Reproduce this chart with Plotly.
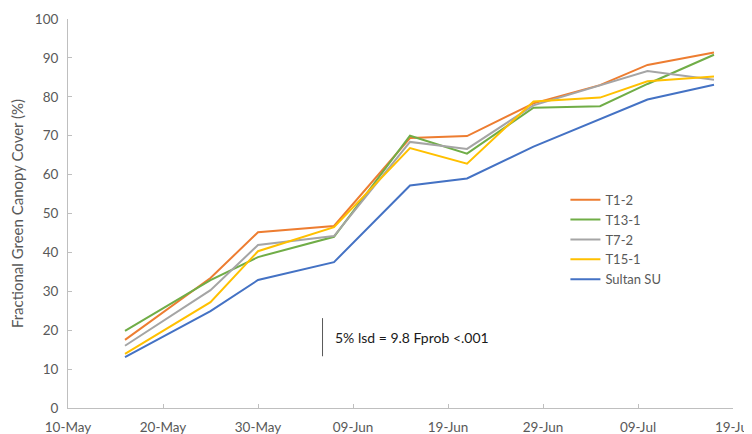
import plotly.graph_objects as go

dates = ["2023-05-16", "2023-05-25", "2023-05-30", "2023-06-07", "2023-06-15",
         "2023-06-21", "2023-06-28", "2023-07-05", "2023-07-10", "2023-07-17"]

t1_2 = [17.5, 33.4, 45.2, 46.8, 69.4, 69.9, 78.3, 83.0, 88.2, 91.4]
t13_1 = [19.8, 32.9, 38.8, 44.0, 70.0, 65.4, 77.2, 77.6, 83.3, 90.8]
t7_2 = [16.0, 30.3, 41.9, 44.2, 68.4, 66.6, 77.8, 82.9, 86.6, 84.4]
t15_1 = [13.9, 27.2, 40.3, 46.5, 66.8, 62.8, 78.8, 79.8, 84.0, 85.2]
sultan = [13.1, 24.9, 32.9, 37.5, 57.2, 59.0, 67.2, 74.2, 79.3, 83.1]

series_names = ["T1-2", "T13-1", "T7-2", "T15-1", "Sultan SU"]
series_values = [t1_2, t13_1, t7_2, t15_1, sultan]
colors = ["#ED7D31", "#70AD47", "#A5A5A5", "#FFC000", "#4472C4"]

tick_dates = ["2023-05-10", "2023-05-20", "2023-05-30", "2023-06-09", "2023-06-19",
              "2023-06-29", "2023-07-09", "2023-07-19"]
tick_labels = ["10-May", "20-May", "30-May", "09-Jun", "19-Jun", "29-Jun", "09-Jul", "19-Jul"]

lsd_value = 9.8
lsd_date = "2023-06-05 19:00"
lsd_base = 13.3
lsd_text = "5% lsd = 9.8 Fprob <.001"

fig = go.Figure()
for name, vals, col in zip(series_names, series_values, colors):
    fig.add_trace(go.Scatter(x=dates, y=vals, mode="lines", name=name,
                             line=dict(color=col, width=2)))

fig.add_shape(type="line", xref="x", yref="y",
              x0=lsd_date, x1=lsd_date, y0=lsd_base, y1=lsd_base + lsd_value,
              line=dict(color="#595959", width=1))
fig.add_annotation(x=lsd_date, y=lsd_base + lsd_value / 2, xref="x", yref="y",
                   text=lsd_text, showarrow=False, xanchor="left", xshift=10,
                   font=dict(family="Lato", size=14, color="#1a1a1a"))

fig.update_layout(
    width=744, height=426,
    margin=dict(l=60, r=19, t=11, b=26),
    paper_bgcolor="white", plot_bgcolor="white",
    font=dict(family="Lato", size=13, color="#595959"),
    showlegend=True,
    legend=dict(x=0.748, y=0.574, xanchor="left", yanchor="top",
                bgcolor="rgba(0,0,0,0)", font=dict(size=13, color="#595959"),
                tracegroupgap=0, itemwidth=30),
    xaxis=dict(range=["2023-05-10", "2023-07-19"], tickvals=tick_dates, ticktext=tick_labels,
               automargin=False,
               showgrid=False, zeroline=False, showline=True, linecolor="#BFBFBF", linewidth=1,
               ticks="inside", ticklen=4, tickcolor="#BFBFBF", ticklabelstandoff=7,
               tickfont=dict(size=13.5, color="#595959")),
    yaxis=dict(range=[0, 100], dtick=10, showgrid=False, zeroline=False,
               automargin=False,
               showline=True, linecolor="#BFBFBF", linewidth=1,
               ticks="inside", ticklen=4, tickcolor="#BFBFBF", ticklabelstandoff=6,
               tickfont=dict(size=13.5, color="#595959"),
               title=dict(text="Fractional Green Canopy Cover (%)", standoff=8,
                          font=dict(size=15, color="#595959"))),
)

fig.write_html("out.html")
